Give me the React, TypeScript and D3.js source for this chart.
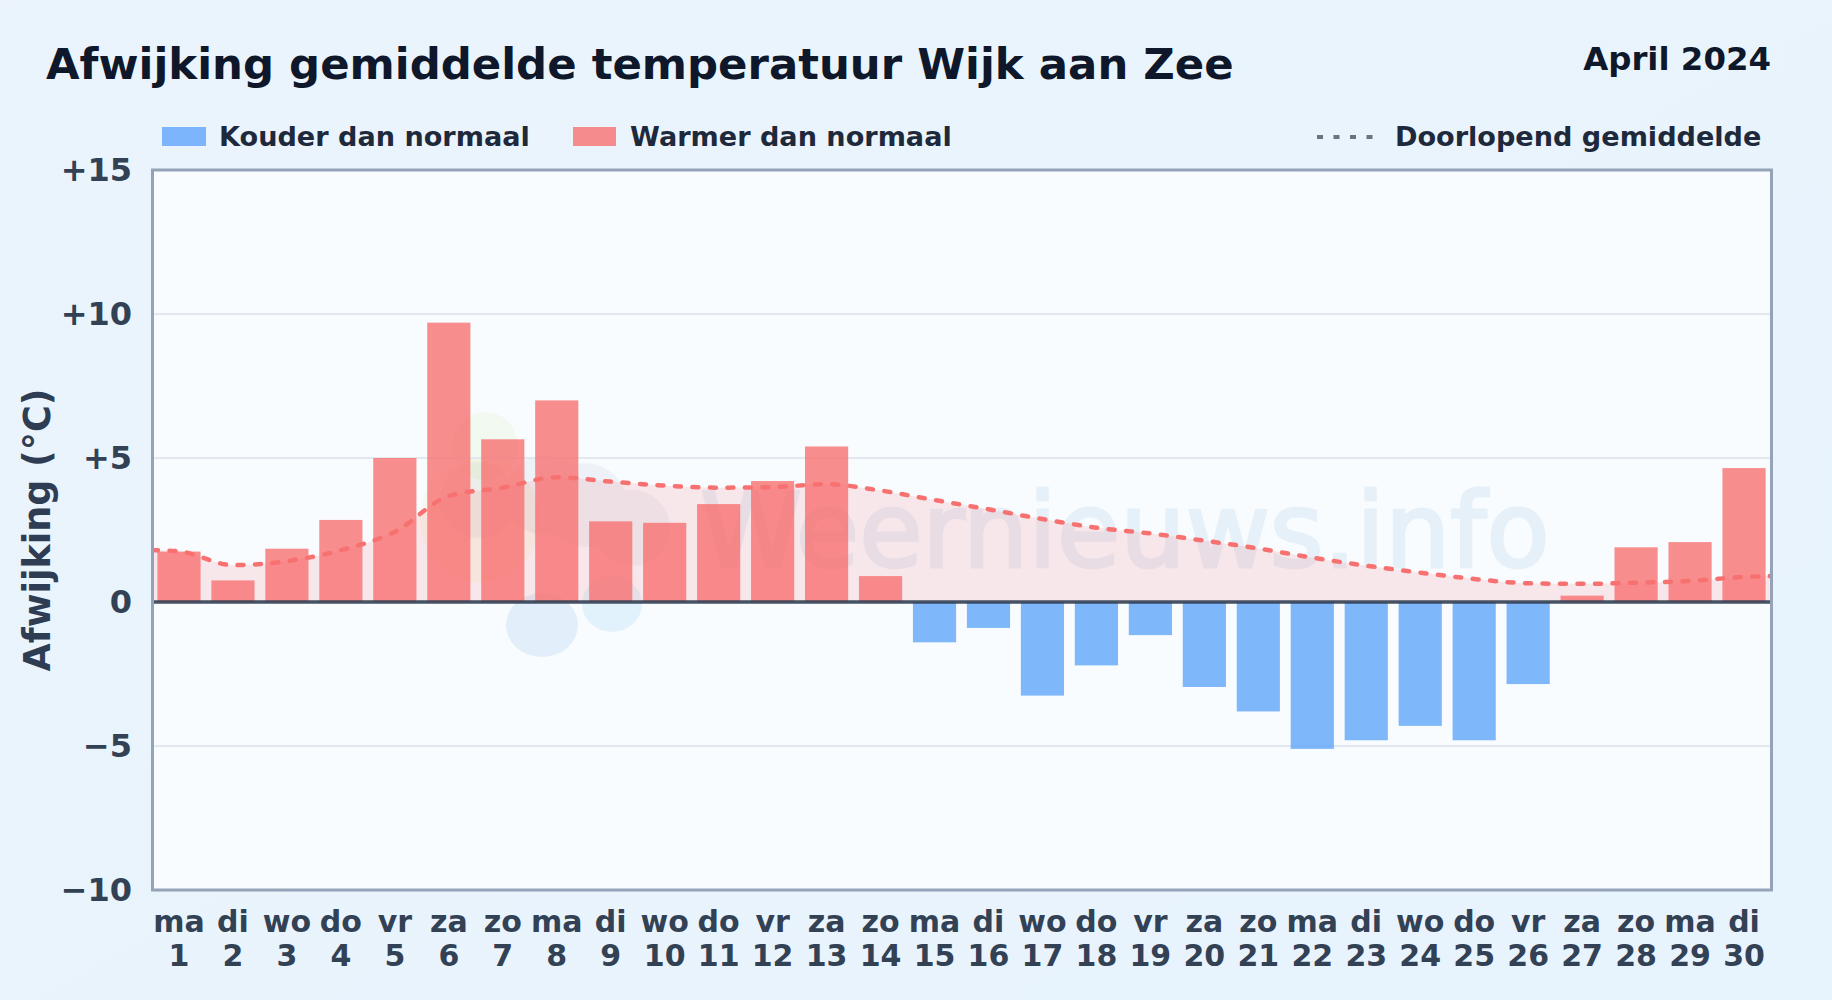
import { useEffect, useRef } from 'react';
import * as d3 from 'd3';

const weekdays = ['ma', 'di', 'wo', 'do', 'vr', 'za', 'zo', 'ma', 'di', 'wo', 'do', 'vr', 'za', 'zo', 'ma', 'di', 'wo', 'do', 'vr', 'za', 'zo', 'ma', 'di', 'wo', 'do', 'vr', 'za', 'zo', 'ma', 'di'];
const days = d3.range(1, 31);
const deviations = [1.75, 0.75, 1.85, 2.85, 5.0, 9.7, 5.65, 7.0, 2.8, 2.75, 3.4, 4.2, 5.4, 0.9, -1.4, -0.9, -3.25, -2.2, -1.15, -2.95, -3.8, -5.1, -4.8, -4.3, -4.8, -2.85, 0.22, 1.9, 2.08, 4.65];
const runningDays = [0.5, ...days, 30.5];
const runningMean = [1.8, 1.76, 1.28, 1.42, 1.8, 2.44, 3.68, 3.97, 4.33, 4.18, 4.04, 3.97, 3.99, 4.09, 3.87, 3.54, 3.22, 2.88, 2.58, 2.38, 2.13, 1.86, 1.54, 1.26, 1.02, 0.8, 0.65, 0.63, 0.67, 0.73, 0.87, 0.9];
const yTicks = [15, 10, 5, 0, -5, -10];
const gridTicks = [10, 5, -5];

const FONT = '"DejaVu Sans", sans-serif';
const WIDTH = 1832;
const HEIGHT = 1000;
const margin = { top: 170, right: 61, bottom: 110, left: 152 };

const fmtTick = (d: number) => (d > 0 ? `+${d}` : d < 0 ? `\u2212${Math.abs(d)}` : '0');

export default function App() {
  const svgRef = useRef<SVGSVGElement>(null);

  useEffect(() => {
    if (!svgRef.current) return;
    const svg = d3.select(svgRef.current);
    svg.selectAll('*').remove();

    const left = margin.left;
    const right = WIDTH - margin.right;
    const top = margin.top;
    const bottom = HEIGHT - margin.bottom;

    const x = d3.scaleBand<number>().domain(days).range([left, right]).paddingInner(0.2).paddingOuter(0.1);
    const xDay = d3.scaleLinear().domain([0.5, 30.5]).range([left, right]);
    const y = d3.scaleLinear().domain([-10, 15]).range([bottom, top]);

    const defs = svg.append('defs');
    const bg = defs.append('linearGradient').attr('id', 'page-bg').attr('x1', 0).attr('y1', 0).attr('x2', 1).attr('y2', 1);
    bg.append('stop').attr('offset', '0%').attr('stop-color', '#ebf4fc');
    bg.append('stop').attr('offset', '100%').attr('stop-color', '#e7f3fd');
    defs.append('clipPath').attr('id', 'plot-clip').append('rect')
      .attr('x', left).attr('y', top).attr('width', right - left).attr('height', bottom - top);

    // Background
    svg.append('rect').attr('width', WIDTH).attr('height', HEIGHT).attr('fill', 'url(#page-bg)');
    svg.append('rect').attr('x', left).attr('y', top).attr('width', right - left).attr('height', bottom - top).attr('fill', '#f8fcff');

    // Watermark
    const wm = svg.append('g');
    wm.append('ellipse').attr('cx', 485).attr('cy', 446).attr('rx', 33).attr('ry', 34).attr('fill', '#84cc16').attr('opacity', 0.06);
    wm.append('ellipse').attr('cx', 480).attr('cy', 520).attr('rx', 60).attr('ry', 62).attr('fill', '#eab308').attr('opacity', 0.06);
    const cloud = wm.append('g').attr('opacity', 0.06);
    [[478, 500, 38], [545, 495, 40], [585, 505, 42], [632, 528, 38]].forEach(([cx, cy, r]) => {
      cloud.append('circle').attr('cx', cx).attr('cy', cy).attr('r', r).attr('fill', '#475f9c');
    });
    wm.append('ellipse').attr('cx', 542).attr('cy', 625).attr('rx', 36).attr('ry', 32).attr('fill', '#3b82c4').attr('opacity', 0.11);
    wm.append('ellipse').attr('cx', 612).attr('cy', 604).attr('rx', 30).attr('ry', 28).attr('fill', '#38a8f0').attr('opacity', 0.11);
    wm.append('text')
      .attr('x', 700)
      .attr('y', 567)
      .attr('font-family', FONT)
      .attr('font-size', 103)
      .attr('fill', '#3b82c4')
      .attr('stroke', '#3b82c4')
      .attr('stroke-width', 3)
      .attr('opacity', 0.09)
      .text('Weernieuws.info');

    // Grid
    svg.append('g').selectAll('line').data(gridTicks).join('line')
      .attr('x1', left).attr('x2', right)
      .attr('y1', (d) => y(d)).attr('y2', (d) => y(d))
      .attr('stroke', '#e2e8f0').attr('stroke-width', 2);

    // Running mean area
    const points = runningDays.map((d, i) => [d, runningMean[i]] as [number, number]);
    const area = d3.area<[number, number]>()
      .x((d) => xDay(d[0])).y0(y(0)).y1((d) => y(d[1]))
      .curve(d3.curveMonotoneX);
    svg.append('path').attr('d', area(points)).attr('fill', '#f87171').attr('opacity', 0.15);

    // Bars
    svg.append('g').selectAll('rect').data(days).join('rect')
      .attr('x', (d) => x(d)!)
      .attr('width', x.bandwidth())
      .attr('y', (d, i) => y(Math.max(0, deviations[i])))
      .attr('height', (d, i) => Math.abs(y(deviations[i]) - y(0)))
      .attr('fill', (d, i) => (deviations[i] >= 0 ? '#f87171' : '#60a5fa'))
      .attr('opacity', 0.8);

    // Running mean line
    const line = d3.line<[number, number]>()
      .x((d) => xDay(d[0])).y((d) => y(d[1]))
      .curve(d3.curveMonotoneX);
    svg.append('path')
      .attr('d', line(points))
      .attr('clip-path', 'url(#plot-clip)')
      .attr('fill', 'none')
      .attr('stroke', '#f87171')
      .attr('stroke-width', 4.5)
      .attr('stroke-linecap', 'round')
      .attr('stroke-dasharray', '6 11.5');

    // Zero line
    svg.append('line')
      .attr('x1', left).attr('x2', right)
      .attr('y1', y(0)).attr('y2', y(0))
      .attr('stroke', '#334155').attr('stroke-width', 3.5).attr('opacity', 0.9);

    // Frame
    svg.append('rect')
      .attr('x', left + 0.5).attr('y', top).attr('width', right - left).attr('height', bottom - top)
      .attr('fill', 'none').attr('stroke', '#94a3b8').attr('stroke-width', 3);

    // Y axis
    const yAxis = d3.axisLeft(y).tickValues(yTicks).tickSize(0).tickPadding(0).tickFormat((d) => fmtTick(d as number));
    const yG = svg.append('g').attr('transform', `translate(132,0)`).call(yAxis);
    yG.select('.domain').remove();
    yG.selectAll('text')
      .attr('font-family', FONT).attr('font-size', 32).attr('font-weight', 700).attr('fill', '#334155')
      .attr('dy', '0.34em');

    svg.append('text')
      .attr('transform', 'translate(50,530) rotate(-90)')
      .attr('text-anchor', 'middle')
      .attr('font-family', FONT).attr('font-size', 36.5).attr('font-weight', 700).attr('fill', '#2f3d54')
      .text('Afwijking (°C)');

    // X labels
    const labels = svg.append('g').attr('font-family', FONT).attr('font-size', 30).attr('font-weight', 700).attr('fill', '#334155').attr('text-anchor', 'middle');
    days.forEach((d, i) => {
      const cx = x(d)! + x.bandwidth() / 2;
      labels.append('text').attr('x', cx).attr('y', 932).text(weekdays[i]);
      labels.append('text').attr('x', cx).attr('y', 966).text(d);
    });

    // Title
    svg.append('text').attr('x', 46).attr('y', 79)
      .attr('font-family', FONT).attr('font-size', 43.4).attr('font-weight', 700).attr('fill', '#0f172a')
      .text('Afwijking gemiddelde temperatuur Wijk aan Zee');
    svg.append('text').attr('x', 1771).attr('y', 70).attr('text-anchor', 'end')
      .attr('font-family', FONT).attr('font-size', 32.4).attr('font-weight', 700).attr('fill', '#0f172a')
      .text('April 2024');

    // Legend
    const legendText = svg.append('g').attr('font-family', FONT).attr('font-size', 27.1).attr('font-weight', 700).attr('fill', '#1e293b');
    svg.append('rect').attr('x', 162).attr('y', 127).attr('width', 44).attr('height', 19).attr('fill', '#60a5fa').attr('opacity', 0.8);
    legendText.append('text').attr('x', 219).attr('y', 146).text('Kouder dan normaal');
    svg.append('rect').attr('x', 573).attr('y', 127).attr('width', 43).attr('height', 19).attr('fill', '#f87171').attr('opacity', 0.8);
    legendText.append('text').attr('x', 630).attr('y', 146).text('Warmer dan normaal');
    svg.append('line').attr('x1', 1317).attr('x2', 1374).attr('y1', 137).attr('y2', 137)
      .attr('stroke', '#6b7280').attr('stroke-width', 4).attr('stroke-dasharray', '6 10.5');
    legendText.append('text').attr('x', 1395).attr('y', 146).text('Doorlopend gemiddelde');
  }, []);

  return (
    <svg
      ref={svgRef}
      width={WIDTH}
      height={HEIGHT}
      style={{ position: 'fixed', left: 0, top: 0, display: 'block' }}
    />
  );
}
